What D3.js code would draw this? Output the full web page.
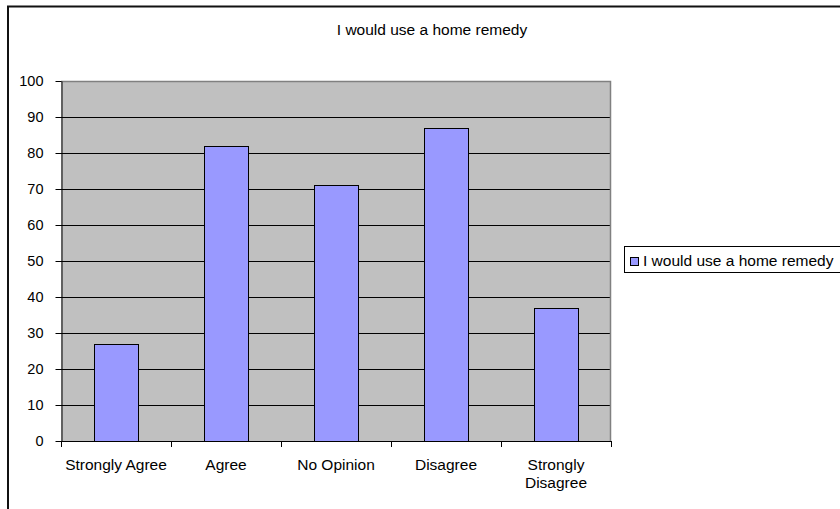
<!DOCTYPE html>
<html>
<head>
<meta charset="utf-8">
<script src="https://cdn.jsdelivr.net/npm/d3@7"></script>
<style>
  html, body { margin: 0; padding: 0; background: #ffffff; }
  svg { display: block; }
  text { font-family: "Liberation Sans", Arial, sans-serif; fill: #000; }
</style>
</head>
<body>
<svg id="chart" width="840" height="509"></svg>
<script>
// Survey responses
const categories = ["Strongly Agree", "Agree", "No Opinion", "Disagree", "Strongly Disagree"];
const values = [27, 82, 71, 87, 37];
const yTicks = [0, 10, 20, 30, 40, 50, 60, 70, 80, 90, 100];
const seriesName = "I would use a home remedy";
const chartTitle = "I would use a home remedy";

const W = 840, H = 509;
const plot = { left: 61, right: 611, top: 81, bottom: 441 };
const fontSize = 15.5;
const tickFontSize = 14.5;

const svg = d3.select("#chart");

// Chart frame
svg.append("rect")
  .attr("x", 8).attr("y", 6.5)
  .attr("width", W + 20).attr("height", H + 20)
  .attr("fill", "#ffffff")
  .attr("stroke", "#111111").attr("stroke-width", 2);

// Scales
const xOuter = d3.scaleBand().domain(categories).range([plot.left, plot.right]).padding(0);
const xBar = d3.scaleBand().domain(categories).range([plot.left, plot.right])
  .paddingInner(0.6).paddingOuter(0.3);
const y = d3.scaleLinear().domain([0, 100]).range([plot.bottom, plot.top]);

// Plot area background
svg.append("rect")
  .attr("x", plot.left).attr("y", plot.top)
  .attr("width", plot.right - plot.left).attr("height", plot.bottom - plot.top)
  .attr("fill", "#c0c0c0");

// Gridlines
svg.append("g").selectAll("line")
  .data(yTicks.filter(d => d > 0 && d < 100))
  .join("line")
  .attr("x1", plot.left).attr("x2", plot.right)
  .attr("y1", d => Math.round(y(d)) + 0.5).attr("y2", d => Math.round(y(d)) + 0.5)
  .attr("stroke", "#000").attr("stroke-width", 1);

// Plot area top and right edges
svg.append("path")
  .attr("d", `M${plot.left},${plot.top + 0.5}H${plot.right - 0.5}V${plot.bottom}`)
  .attr("fill", "none").attr("stroke", "#808080").attr("stroke-width", 1.5);

// Bars
svg.append("g").selectAll("rect")
  .data(categories)
  .join("rect")
  .attr("x", d => Math.round(xBar(d)) + 0.5)
  .attr("width", Math.round(xBar.bandwidth()))
  .attr("y", (d, i) => Math.round(y(values[i])) + 0.5)
  .attr("height", (d, i) => Math.round(y(0)) - Math.round(y(values[i])))
  .attr("fill", "#9999ff")
  .attr("stroke", "#000").attr("stroke-width", 1);

// Y axis
const yAxis = svg.append("g")
  .attr("transform", `translate(${plot.left + 0.5},0)`)
  .call(d3.axisLeft(y).tickValues(yTicks).tickSize(6).tickPadding(12).tickSizeOuter(0));
yAxis.select(".domain").attr("stroke", "#000");
yAxis.selectAll(".tick line").attr("stroke", "#000");
yAxis.selectAll(".tick text")
  .style("font-family", '"Liberation Sans", Arial, sans-serif')
  .style("font-size", tickFontSize + "px").attr("fill", "#000");

// X axis line with ticks at category boundaries
const xAxis = svg.append("g");
xAxis.append("line")
  .attr("x1", plot.left).attr("x2", plot.right)
  .attr("y1", plot.bottom + 0.5).attr("y2", plot.bottom + 0.5)
  .attr("stroke", "#000");
const boundaries = categories.map(c => xOuter(c)).concat([plot.right]);
xAxis.selectAll(".xt")
  .data(boundaries)
  .join("line")
  .attr("class", "xt")
  .attr("x1", d => Math.round(d) + 0.5).attr("x2", d => Math.round(d) + 0.5)
  .attr("y1", plot.bottom).attr("y2", plot.bottom + 6)
  .attr("stroke", "#000");

// Category labels (long ones wrap onto two lines)
const wrapped = { "Strongly Disagree": ["Strongly", "Disagree"] };
const labels = xAxis.selectAll(".xl")
  .data(categories)
  .join("text")
  .attr("class", "xl")
  .attr("x", d => xOuter(d) + xOuter.bandwidth() / 2)
  .attr("y", 470)
  .attr("text-anchor", "middle")
  .style("font-size", fontSize + "px");
labels.each(function(d) {
  const lines = wrapped[d] || [d];
  const t = d3.select(this);
  lines.forEach((ln, i) => {
    t.append("tspan")
      .attr("x", xOuter(d) + xOuter.bandwidth() / 2)
      .attr("dy", i === 0 ? 0 : 18)
      .text(ln);
  });
});

// Title
svg.append("text")
  .attr("x", 432).attr("y", 35)
  .attr("text-anchor", "middle")
  .style("font-size", fontSize + "px")
  .text(chartTitle);

// Legend
const legend = svg.append("g");
legend.append("rect")
  .attr("x", 624.5).attr("y", 246.5)
  .attr("width", 240).attr("height", 26)
  .attr("fill", "#ffffff").attr("stroke", "#000").attr("stroke-width", 1);
legend.append("rect")
  .attr("x", 630.5).attr("y", 257.5)
  .attr("width", 8).attr("height", 8)
  .attr("fill", "#9999ff").attr("stroke", "#000").attr("stroke-width", 1);
legend.append("text")
  .attr("x", 643).attr("y", 265.5)
  .style("font-size", fontSize + "px")
  .text(seriesName);
</script>
</body>
</html>
